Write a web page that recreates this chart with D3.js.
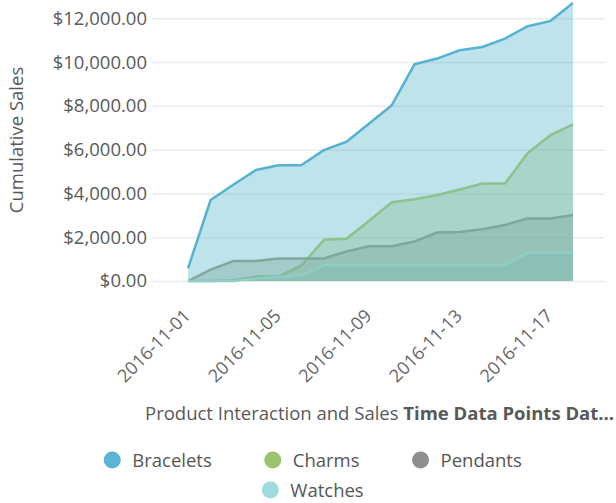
<!DOCTYPE html>
<html>
<head>
<meta charset="utf-8">
<script src="https://cdn.jsdelivr.net/npm/d3@7"></script>
<style>
    body { margin: 0; background: #fff; }
    svg { display: block; font-family: "Open Sans", sans-serif; }
</style>
</head>
<body>
<div id="chart"></div>
<script>
// 날짜 (일별)
const dates = [
    "2016-11-01", "2016-11-02", "2016-11-03", "2016-11-04", "2016-11-05", "2016-11-06",
    "2016-11-07", "2016-11-08", "2016-11-09", "2016-11-10", "2016-11-11", "2016-11-12",
    "2016-11-13", "2016-11-14", "2016-11-15", "2016-11-16", "2016-11-17", "2016-11-18"
];

// 누적 매출
const bracelets = [580, 3700, 4400, 5070, 5290, 5290, 5980, 6360, 7195, 8030, 9900, 10160, 10540, 10690, 11075, 11640, 11880, 12700];
const charms = [0, 0, 30, 200, 200, 700, 1880, 1930, 2750, 3600, 3730, 3930, 4180, 4450, 4450, 5850, 6660, 7160];
const pendants = [0, 520, 910, 910, 1030, 1030, 1030, 1350, 1590, 1590, 1800, 2220, 2240, 2360, 2560, 2860, 2860, 3010];
const watches = [0, 0, 0, 120, 180, 250, 730, 730, 730, 730, 730, 730, 730, 730, 730, 1290, 1290, 1290];

const seriesNames = ["Bracelets", "Charms", "Pendants", "Watches"];
const yTicks = [0, 2000, 4000, 6000, 8000, 10000, 12000];

const legendColors = ["#5ab4d3", "#9cc46e", "#8e8e8e", "#9fdade"];
const lineColors = ["#55b2d0", "#8cc28c", "#7ea79f", "#8ccfc6"];
const fillColors = ["#5fb9ca", "#86bd98", "#7ba79e", "#7dbfb3"];

const width = 616;
const height = 503;
const fontSize = '18.5px';

const parseDate = d3.timeParse("%Y-%m-%d");
const days = dates.map(parseDate);
const values = [bracelets, charms, pendants, watches];

const series = seriesNames.map((name, i) => ({
    name: name,
    points: days.map((d, j) => ({ date: d, value: values[i][j] }))
}));

const svg = d3.select('#chart')
    .append('svg')
    .attr('width', width)
    .attr('height', height);

const x = d3.scaleTime()
    .domain(d3.extent(days))
    .range([188, 573]);

const y = d3.scaleLinear()
    .domain([0, 12000])
    .range([281, 18.3]);

const gridLeft = 152;
const gridRight = 605;

// y축 + 그리드
const yAxis = svg.append('g')
    .attr('transform', `translate(${gridLeft},0)`)
    .call(d3.axisLeft(y)
        .tickValues(yTicks)
        .tickFormat(d3.format("$,.2f"))
        .tickSize(-(gridRight - gridLeft))
        .tickPadding(5));

yAxis.select('.domain').remove();
yAxis.selectAll('line')
    .attr('stroke', '#ebebeb')
    .attr('stroke-width', 1.5);
yAxis.selectAll('text')
    .attr('fill', '#595959')
    .attr('font-size', fontSize)
    .attr('font-family', '"Open Sans", sans-serif');

// y축 제목
svg.append('text')
    .attr('transform', 'translate(23,140) rotate(-90)')
    .attr('text-anchor', 'middle')
    .attr('font-size', fontSize)
    .attr('fill', '#595959')
    .text('Cumulative Sales');

// 영역 + 선
const area = d3.area()
    .x(d => x(d.date))
    .y0(y(0))
    .y1(d => y(d.value));

const line = d3.line()
    .x(d => x(d.date))
    .y(d => y(d.value));

const layer = svg.selectAll('.layer')
    .data(series)
    .enter()
    .append('g')
    .attr('class', 'layer');

layer.append('path')
    .attr('d', d => area(d.points))
    .attr('fill', (d, i) => fillColors[i])
    .attr('fill-opacity', 0.4);

layer.append('path')
    .attr('d', d => line(d.points))
    .attr('fill', 'none')
    .attr('stroke', (d, i) => lineColors[i])
    .attr('stroke-width', 2.5)
    .attr('stroke-linejoin', 'round');

// x축 레이블
const xAxis = svg.append('g')
    .attr('transform', 'translate(0,281)')
    .call(d3.axisBottom(x)
        .ticks(d3.timeDay.every(4))
        .tickFormat(d3.timeFormat("%Y-%m-%d"))
        .tickSize(0));

xAxis.select('.domain').remove();
xAxis.selectAll('text')
    .attr('font-size', '18px')
    .attr('font-family', '"Open Sans", sans-serif')
    .attr('fill', '#666')
    .attr('text-anchor', 'end')
    .attr('y', 0)
    .attr('dy', 0)
    .attr('transform', 'translate(3,36) rotate(-45)');

// x축 제목
const xTitle = svg.append('text')
    .attr('x', 145)
    .attr('y', 420)
    .attr('font-size', fontSize)
    .attr('fill', '#595959');
xTitle.append('tspan').text('Product Interaction and Sales ');
xTitle.append('tspan').attr('font-weight', 'bold').text('Time Data Points Dat...');

// 범례 (행 단위 가운데 정렬)
const legendRows = [[0, 1, 2], [3]];
const legendCenter = 313;
const legendGap = 53;

legendRows.forEach((row, r) => {
    const g = svg.append('g');
    let cursor = 0;
    row.forEach((si, k) => {
        const item = g.append('g').attr('transform', `translate(${cursor},0)`);
        item.append('circle')
            .attr('cx', 8)
            .attr('cy', 0)
            .attr('r', 8.5)
            .attr('fill', legendColors[si]);
        const t = item.append('text')
            .attr('x', 28)
            .attr('y', 6.5)
            .attr('font-size', fontSize)
            .attr('fill', '#555')
            .text(seriesNames[si]);
        cursor += 28 + t.node().getComputedTextLength() + (k < row.length - 1 ? legendGap : 0);
    });
    g.attr('transform', `translate(${legendCenter - cursor / 2},${460 + r * 30})`);
});
</script>
</body>
</html>
